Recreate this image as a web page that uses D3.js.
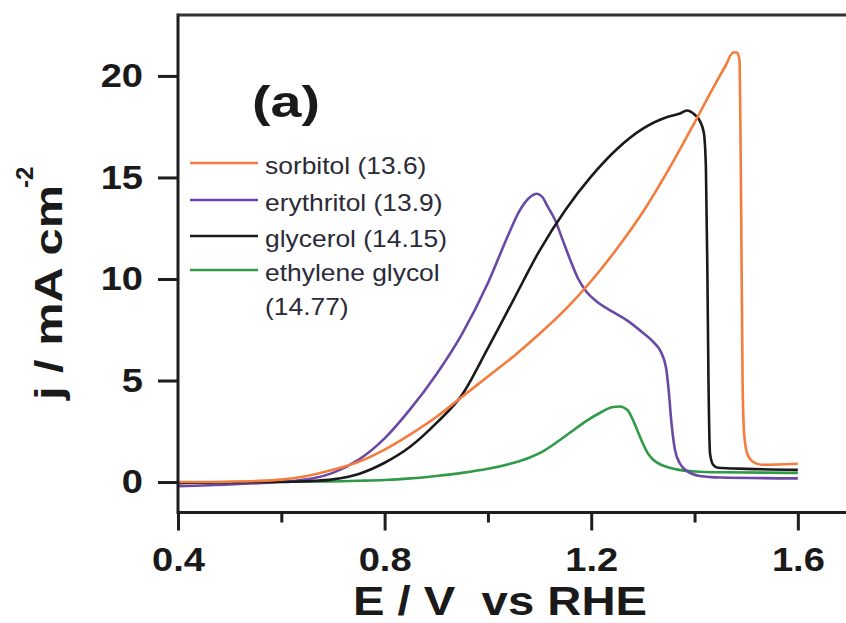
<!DOCTYPE html>
<html><head><meta charset="utf-8">
<script src="https://cdn.jsdelivr.net/npm/d3@7"></script>
<style>
body{margin:0;background:#fff;}
svg{display:block;font-family:"Liberation Sans",Arial,sans-serif;}
</style></head>
<body>
<svg id="chart" width="846" height="623"></svg>
<script>
// ---- data (E / V vs RHE, j / mA cm^-2) ----
const seriesNames = ["sorbitol (13.6)", "erythritol (13.9)", "glycerol (14.15)", "ethylene glycol"];
const legendExtra = "(14.77)";
const seriesColors = ["#f47c3c", "#6a48a6", "#1a1a1a", "#2f9a47"];

const sorbitol = [[0.40,0],[0.45,0],[0.50,0.02],[0.55,0.05],[0.60,0.12],[0.65,0.3],[0.70,0.6],[0.75,1.0],[0.80,1.6],[0.85,2.35],[0.90,3.2],[0.95,4.2],[1.00,5.2],[1.05,6.2],[1.10,7.3],[1.15,8.5],[1.20,9.9],[1.25,11.5],[1.30,13.3],[1.35,15.4],[1.40,17.7],[1.44,19.6],[1.46,20.5],[1.475,21.15],[1.482,21.15],[1.487,20.8],[1.489,17.0],[1.491,11.0],[1.493,5.0],[1.496,2.4],[1.502,1.4],[1.513,1.0],[1.53,0.85],[1.60,0.9]];
const erythritol = [[0.40,-0.2],[0.50,-0.12],[0.58,-0.02],[0.62,0.05],[0.66,0.17],[0.70,0.45],[0.75,1.1],[0.80,2.15],[0.85,3.6],[0.90,5.3],[0.95,7.3],[1.00,9.8],[1.04,12.2],[1.06,13.3],[1.08,14.0],[1.095,14.2],[1.105,14.05],[1.115,13.6],[1.13,12.9],[1.145,11.9],[1.16,10.9],[1.175,10.0],[1.19,9.4],[1.21,8.9],[1.24,8.4],[1.27,7.95],[1.30,7.35],[1.32,6.9],[1.335,6.4],[1.345,5.6],[1.35,4.5],[1.355,3.0],[1.362,1.6],[1.372,0.9],[1.385,0.55],[1.41,0.3],[1.45,0.22],[1.60,0.18]];
const glycerol = [[0.40,-0.05],[0.55,0],[0.60,0.0],[0.65,0.04],[0.70,0.13],[0.75,0.4],[0.80,0.95],[0.85,1.75],[0.90,2.9],[0.95,4.3],[1.00,6.6],[1.05,9.0],[1.10,11.4],[1.15,13.4],[1.20,15.05],[1.25,16.4],[1.30,17.4],[1.35,18.0],[1.372,18.15],[1.385,18.3],[1.40,18.1],[1.41,17.8],[1.418,17.2],[1.422,15.5],[1.425,10.0],[1.427,5.0],[1.43,1.4],[1.436,0.85],[1.445,0.7],[1.50,0.65],[1.60,0.6]];
const ethyleneGlycol = [[0.40,-0.05],[0.55,0],[0.70,0.03],[0.75,0.06],[0.80,0.1],[0.85,0.18],[0.90,0.3],[0.95,0.45],[1.00,0.65],[1.05,0.95],[1.08,1.2],[1.10,1.42],[1.13,1.9],[1.16,2.45],[1.19,3.0],[1.22,3.45],[1.24,3.68],[1.255,3.72],[1.27,3.55],[1.28,3.1],[1.29,2.5],[1.30,1.9],[1.31,1.4],[1.32,1.1],[1.335,0.85],[1.35,0.72],[1.37,0.6],[1.40,0.52],[1.45,0.48],[1.60,0.45]];
const seriesData = [sorbitol, erythritol, glycerol, ethyleneGlycol];

const xMajorTicks = [0.4, 0.8, 1.2, 1.6];
const xMinorTicks = [0.6, 1.0, 1.4];
const yTicks = [0, 5, 10, 15, 20];

// ---- layout ----
const svg = d3.select("#chart");
const pL = 178, pT = 15, pB = 512.5, pR = 849.5;
const x = d3.scaleLinear().domain([0.4, 1.7]).range([pL, pR]);
const y = d3.scaleLinear().domain([-1.5, 23]).range([pB, pT]);
const stretch = 1.12;
function widen(sel, f) {
  sel.each(function(){ const w = this.getComputedTextLength(); d3.select(this).attr("textLength", w*(f||stretch)).attr("lengthAdjust","spacingAndGlyphs"); });
}

// curves
svg.append("clipPath").attr("id","cp").append("rect").attr("x",pL).attr("y",pT).attr("width",pR-pL).attr("height",pB-pT);
const line = d3.line().x(d=>x(d[0])).y(d=>y(d[1])).curve(d3.curveMonotoneX);
const plot = svg.append("g").attr("clip-path","url(#cp)");
[3,1,2,0].forEach(i=>{
  plot.append("path").datum(seriesData[i]).attr("d", line).attr("fill","none")
    .attr("stroke", seriesColors[i]).attr("stroke-width", 2.6).attr("stroke-linejoin","round");
});

// axes
const axisColor = "#1e1e1e";
const gx = svg.append("g").attr("transform",`translate(0,${pB})`)
  .call(d3.axisBottom(x).tickValues(xMajorTicks).tickSize(18).tickPadding(16).tickFormat(d3.format(".1f")));
const gxm = svg.append("g").attr("transform",`translate(0,${pB})`)
  .call(d3.axisBottom(x).tickValues(xMinorTicks).tickSize(10).tickFormat(""));
const gy = svg.append("g").attr("transform",`translate(${pL},0)`)
  .call(d3.axisLeft(y).tickValues(yTicks).tickSize(20).tickPadding(15));
[gx,gxm,gy].forEach(g=>{
  g.select(".domain").remove();
  g.selectAll("line").attr("stroke",axisColor).attr("stroke-width",3);
});
svg.append("line").attr("x1",pL).attr("x2",846).attr("y1",pB).attr("y2",pB).attr("stroke",axisColor).attr("stroke-width",3);
svg.append("line").attr("x1",pL).attr("x2",pL).attr("y1",pT-1.5).attr("y2",pB+1.5).attr("stroke",axisColor).attr("stroke-width",3);
svg.append("line").attr("x1",pL).attr("x2",846).attr("y1",pT).attr("y2",pT).attr("stroke","#333").attr("stroke-width",3);
[gx,gy].forEach(g=>{
  g.selectAll("text").attr("font-size",34).attr("font-weight","bold").attr("fill","#1a1a1a")
   .attr("font-family","'Liberation Sans',Arial,sans-serif");
  widen(g.selectAll("text"));
});

// axis titles
svg.append("text").attr("x",500).attr("y",615).attr("text-anchor","middle")
  .attr("font-size",41).attr("font-weight","bold").attr("fill","#1a1a1a").attr("xml:space","preserve")
  .attr("textLength",294).attr("lengthAdjust","spacingAndGlyphs")
  .text("E / V  vs RHE");

svg.append("text").attr("transform","translate(62,400) rotate(-90)").attr("text-anchor","start")
  .attr("font-size",38).attr("font-weight","bold").attr("fill","#1a1a1a")
  .attr("textLength",215).attr("lengthAdjust","spacingAndGlyphs")
  .text("j / mA cm");
svg.append("text").attr("transform","translate(33,188) rotate(-90)").attr("text-anchor","start")
  .attr("font-size",24).attr("font-weight","bold").attr("fill","#1a1a1a").text("-2");

// panel label
svg.append("text").attr("x",252).attr("y",117).attr("font-size",45).attr("font-weight","bold")
  .attr("fill","#1a1a1a").attr("textLength",68).attr("lengthAdjust","spacingAndGlyphs").text("(a)");

// legend
const legY = [163, 200, 236, 270];
const lg = svg.append("g");
seriesNames.forEach((n,i)=>{
  lg.append("line").attr("x1",190).attr("x2",258).attr("y1",legY[i]).attr("y2",legY[i])
    .attr("stroke",seriesColors[i]).attr("stroke-width",2.6);
  lg.append("text").attr("x",265).attr("y",legY[i]+11).attr("font-size",24).attr("fill","#2b2b38").text(n);
});
lg.append("text").attr("x",265).attr("y",legY[3]+45).attr("font-size",24).attr("fill","#2b2b38").text(legendExtra);
widen(lg.selectAll("text"), 1.1);
</script>
</body></html>
